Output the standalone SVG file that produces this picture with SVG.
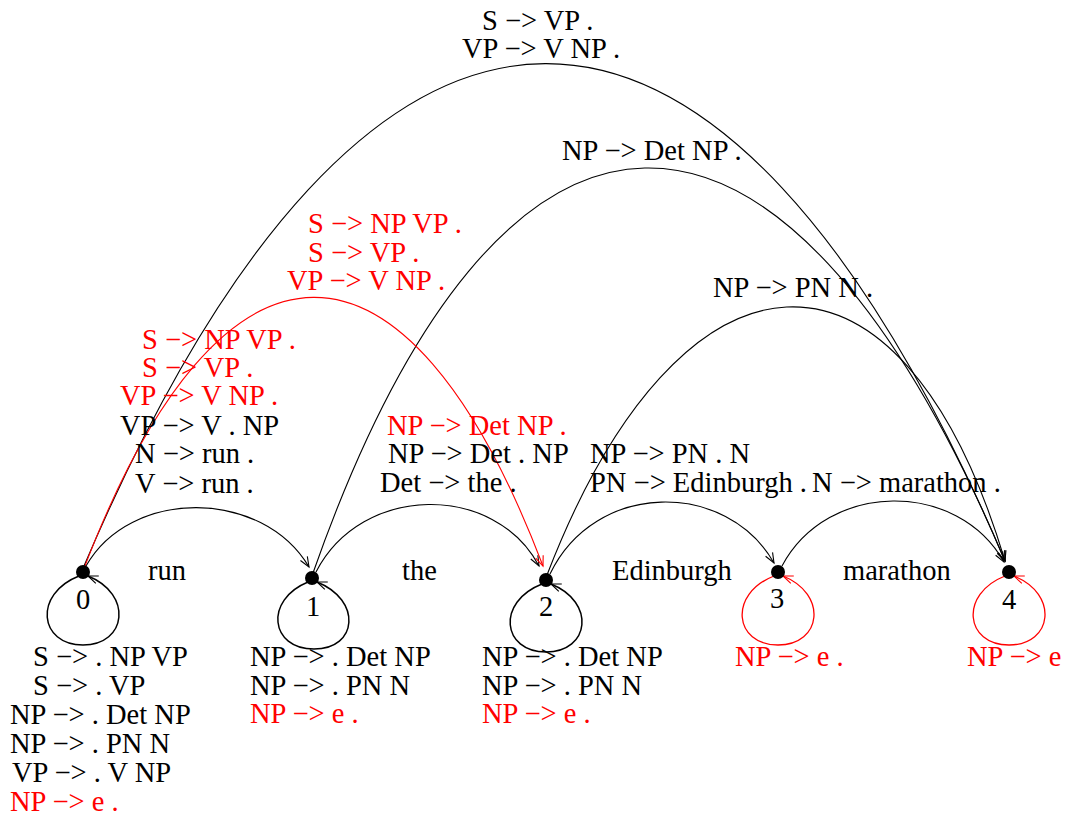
<svg xmlns="http://www.w3.org/2000/svg" width="1073" height="816" viewBox="0 0 1073 816">
<style>
text{font-family:"Liberation Serif","Times New Roman",serif;font-size:28.5px;fill:#000}
text.r{fill:#ff0000}
text.c{text-anchor:middle}
.e{fill:none;stroke:#000;stroke-width:1.1}
.er{fill:none;stroke:#ff0000;stroke-width:1.1}
.lp{fill:none;stroke:#000;stroke-width:1.5}
.lpr{fill:none;stroke:#ff0000;stroke-width:1.3}
.dot{fill:#000}
</style>
<defs>
<marker id="ab" viewBox="-12 -6 14 12" refX="0" refY="0" markerWidth="14" markerHeight="12" orient="auto" markerUnits="userSpaceOnUse"><path d="M-10,-4 L0,0 L-10,4" fill="none" stroke="#000" stroke-width="1.1"/></marker>
<marker id="ar" viewBox="-12 -6 14 12" refX="0" refY="0" markerWidth="14" markerHeight="12" orient="auto" markerUnits="userSpaceOnUse"><path d="M-10,-4 L0,0 L-10,4" fill="none" stroke="#ff0000" stroke-width="1.1"/></marker>
</defs>
<rect width="1073" height="816" fill="#fff"/>
<g id="connectors">
<g id="e0-1"><path class="e" marker-end="url(#ab)" d="M86,566 C130,488 262,488 309,567"/><text x="148" y="580">run</text></g>
<g id="e1-2"><path class="e" marker-end="url(#ab)" d="M316,572 C362,483 495,483 539,566"/><text x="402" y="580">the</text></g>
<g id="e2-3"><path class="e" marker-end="url(#ab)" d="M550,574 C595,480 727,480 774,563"/><text x="612" y="580">Edinburgh</text></g>
<g id="e3-4"><path class="e" marker-end="url(#ab)" d="M782,566 C828,480 958,480 1004,562"/><text x="843" y="580">marathon</text></g>
<g id="e0-4"><path class="e" marker-end="url(#ab)" d="M84,566 C369,-103 722,-103 1005,561"/><text x="482" y="30">S −&gt; VP .</text><text x="462" y="58">VP −&gt; V NP .</text></g>
<g id="e1-4"><path class="e" marker-end="url(#ab)" d="M313,573 C500,40 780,30 1005,561"/><text x="562" y="160">NP −&gt; Det NP .</text></g>
<g id="e2-4"><path class="e" marker-end="url(#ab)" d="M547,575 C680,230 900,210 1005,561"/><text x="713" y="297">NP −&gt; PN N .</text></g>
<g id="e0-2"><path class="er" marker-end="url(#ar)" d="M83,571 C221,207 406,207 543,566"/><text class="r" x="308" y="233">S −&gt; NP VP .</text><text class="r" x="308" y="262">S −&gt; VP .</text><text class="r" x="287" y="290">VP −&gt; V NP .</text></g>
<g id="loop0"><path class="lp" marker-end="url(#ab)" d="M79,576 C33,594 39,645 83,645 C127,645 133,594 88,576"/></g>
<g id="loop1"><path class="lp" marker-end="url(#ab)" d="M308,582 C264,600 270,649 314,649 C358,649 362,600 317,582"/></g>
<g id="loop2"><path class="lp" marker-end="url(#ab)" d="M542,584 C496,602 502,652 546,652 C590,652 596,602 551,584"/></g>
<g id="loop3"><path class="lpr" marker-end="url(#ar)" d="M774,576 C728,594 734,645 778,645 C822,645 828,594 783,576"/></g>
<g id="loop4"><path class="lpr" marker-end="url(#ar)" d="M1005,576 C959,594 965,645 1009,645 C1053,645 1059,594 1014,576"/></g>
</g>
<g id="node0">
<circle class="dot" cx="83" cy="572" r="7"/>
<text class="c" x="83" y="609">0</text>
<text class="r" x="142" y="349">S −&gt; NP VP .</text>
<text class="r" x="142" y="377">S −&gt; VP .</text>
<text class="r" x="120" y="405">VP −&gt; V NP .</text>
<text x="120" y="435">VP −&gt; V . NP</text>
<text x="135" y="463">N −&gt; run .</text>
<text x="135" y="493">V −&gt; run .</text>
<text x="33" y="666">S −&gt; . NP VP</text>
<text x="33" y="695">S −&gt; . VP</text>
<text x="10" y="724">NP −&gt; . Det NP</text>
<text x="10" y="753">NP −&gt; . PN N</text>
<text x="12" y="782">VP −&gt; . V NP</text>
<text class="r" x="10" y="811">NP −&gt; e .</text>
</g>
<g id="node1">
<circle class="dot" cx="312" cy="578" r="7"/>
<text class="c" x="313" y="616">1</text>
<text x="250" y="666">NP −&gt; . Det NP</text>
<text x="250" y="695">NP −&gt; . PN N</text>
<text class="r" x="250" y="723">NP −&gt; e .</text>
</g>
<g id="node2">
<circle class="dot" cx="546" cy="580" r="7"/>
<text class="c" x="546" y="616">2</text>
<text class="r" x="387" y="435">NP −&gt; Det NP .</text>
<text x="388" y="463">NP −&gt; Det . NP</text>
<text x="380" y="492">Det −&gt; the .</text>
<text x="590" y="463">NP −&gt; PN . N</text>
<text x="590" y="492">PN −&gt; Edinburgh .</text>
<text x="482" y="666">NP −&gt; . Det NP</text>
<text x="482" y="695">NP −&gt; . PN N</text>
<text class="r" x="482" y="723">NP −&gt; e .</text>
</g>
<g id="node3">
<circle class="dot" cx="778" cy="572" r="7"/>
<text class="c" x="777" y="608">3</text>
<text x="812" y="492">N −&gt; marathon .</text>
<text class="r" x="735" y="666">NP −&gt; e .</text>
</g>
<g id="node4">
<circle class="dot" cx="1009" cy="572" r="7"/>
<text class="c" x="1009" y="609">4</text>
<text class="r" x="967" y="666">NP −&gt; e</text>
</g>
</svg>
